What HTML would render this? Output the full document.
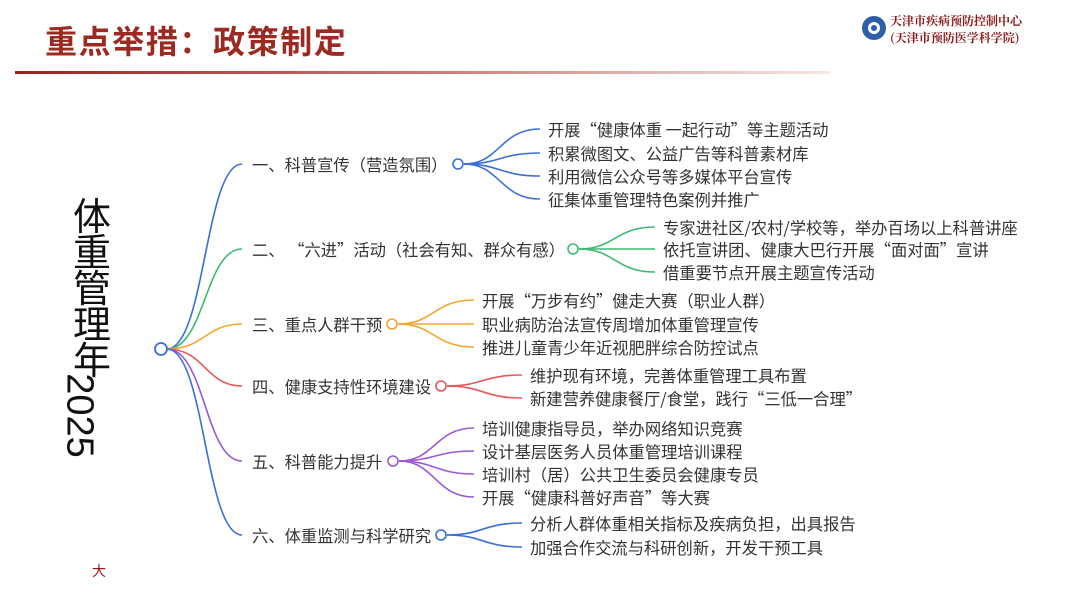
<!DOCTYPE html>
<html><head><meta charset="utf-8"><style>
html,body{margin:0;padding:0;background:#fff;}
body{width:1069px;height:601px;overflow:hidden;position:relative;font-family:"Liberation Sans","Noto Sans CJK SC",sans-serif;}
.t{position:absolute;left:45px;top:17px;font-size:32px;font-weight:bold;color:#9b2a22;letter-spacing:1.6px;font-family:"Noto Sans CJK SC",sans-serif;}
.bar{position:absolute;left:15px;top:71px;width:815px;height:3px;background:linear-gradient(to right,#9b1f1f,#c77a74 50%,#f5e6e4);}
.logo{position:absolute;left:890px;top:12px;font-size:12px;font-weight:bold;color:#8b1a1a;line-height:17px;font-family:"Noto Serif CJK SC",serif;}
.v{position:absolute;left:72px;top:196px;font-size:38px;line-height:36px;color:#111;width:40px;text-align:center;font-family:"Noto Sans CJK SC",sans-serif;}
.y{position:absolute;left:34px;top:394px;font-size:38px;color:#111;transform:rotate(90deg);transform-origin:center;width:90px;text-align:center;}
svg text{font-family:"Noto Sans CJK SC",sans-serif;font-size:16.3px;fill:#333;dominant-baseline:central;}
</style></head><body>
<div class="t">重点举措：政策制定</div>
<div class="bar"></div>
<svg style="position:absolute;left:860px;top:14px" width="28" height="28"><circle cx="14" cy="14" r="12" fill="#2d5fa8"/><circle cx="14" cy="14" r="6" fill="#fff"/><circle cx="14" cy="14" r="3" fill="#2d5fa8"/></svg>
<div class="logo">天津市疾病预防控制中心<br>(天津市预防医学科学院)</div>
<div class="v">体<br>重<br>管<br>理<br>年</div>
<div class="y">2025</div>
<div style="position:absolute;left:92px;top:561px;font-size:14px;color:#a01010;">大</div>
<svg width="1069" height="601" style="position:absolute;left:0;top:0" fill="none" stroke-width="1.6">
<path d="M167,349 C205,349 205,164 242,164" stroke="#3a6fd8"/>
<path d="M167,349 C205,349 205,249 242,249" stroke="#3dbb6f"/>
<path d="M167,349 C205,349 205,324 242,324" stroke="#f0a830"/>
<path d="M167,349 C205,349 205,386 242,386" stroke="#e8575a"/>
<path d="M167,349 C205,349 205,461 242,461" stroke="#9b59d6"/>
<path d="M167,349 C205,349 205,535 242,535" stroke="#3a6fd8"/>
<circle cx="161" cy="349" r="6" stroke="#3a6fd8" fill="#fff" stroke-width="1.8"/>
<g stroke="#3a6fd8">
<path d="M464,164 C500,164 500,129 540,129"/><path d="M464,164 C500,164 500,153 540,153"/><path d="M464,164 C500,164 500,176 540,176"/><path d="M464,164 C500,164 500,199 540,199"/>
<circle cx="458" cy="164" r="5" fill="#fff"/></g>
<g stroke="#3dbb6f">
<path d="M579,249 C615,249 615,227 655,227"/><path d="M579,249 L655,249"/><path d="M579,249 C615,249 615,272 655,272"/>
<circle cx="573" cy="249" r="5" fill="#fff"/></g>
<g stroke="#f0a830">
<path d="M398,324 C434,324 434,300 474,300"/><path d="M398,324 L474,324"/><path d="M398,324 C434,324 434,347 474,347"/>
<circle cx="392" cy="324" r="5" fill="#fff"/></g>
<g stroke="#e8575a">
<path d="M447,386 C483,386 483,375 522,375"/><path d="M447,386 C483,386 483,398 522,398"/>
<circle cx="441" cy="386" r="5" fill="#fff"/></g>
<g stroke="#9b59d6">
<path d="M399,461 C435,461 435,428 474,428"/><path d="M399,461 C435,461 435,451 474,451"/><path d="M399,461 C435,461 435,474 474,474"/><path d="M399,461 C435,461 435,497 474,497"/>
<circle cx="393" cy="461" r="5" fill="#fff"/></g>
<g stroke="#3a6fd8">
<path d="M447,535 C483,535 483,523 522,523"/><path d="M447,535 C483,535 483,547 522,547"/>
<circle cx="441" cy="535" r="5" fill="#fff"/></g>
<text x="252" y="164">一、科普宣传（营造氛围）</text>
<text x="252" y="249">二、 “六进”活动（社会有知、群众有感）</text>
<text x="252" y="324">三、重点人群干预</text>
<text x="252" y="386">四、健康支持性环境建设</text>
<text x="252" y="461">五、科普能力提升</text>
<text x="252" y="535">六、体重监测与科学研究</text>
<text x="548" y="129">开展“健康体重 一起行动”等主题活动</text>
<text x="548" y="153">积累微图文、公益广告等科普素材库</text>
<text x="548" y="176">利用微信公众号等多媒体平台宣传</text>
<text x="548" y="199">征集体重管理特色案例并推广</text>
<text x="663" y="227">专家进社区/农村/学校等，举办百场以上科普讲座</text>
<text x="663" y="249">依托宣讲团、健康大巴行开展“面对面”宣讲</text>
<text x="663" y="272">借重要节点开展主题宣传活动</text>
<text x="482" y="300">开展“万步有约”健走大赛（职业人群）</text>
<text x="482" y="324">职业病防治法宣传周增加体重管理宣传</text>
<text x="482" y="347">推进儿童青少年近视肥胖综合防控试点</text>
<text x="530" y="375">维护现有环境，完善体重管理工具布置</text>
<text x="530" y="398">新建营养健康餐厅/食堂，践行“三低一合理”</text>
<text x="482" y="428">培训健康指导员，举办网络知识竞赛</text>
<text x="482" y="451">设计基层医务人员体重管理培训课程</text>
<text x="482" y="474">培训村（居）公共卫生委员会健康专员</text>
<text x="482" y="497">开展“健康科普好声音”等大赛</text>
<text x="530" y="523">分析人群体重相关指标及疾病负担，出具报告</text>
<text x="530" y="547">加强合作交流与科研创新，开发干预工具</text>
</svg>
</body></html>
